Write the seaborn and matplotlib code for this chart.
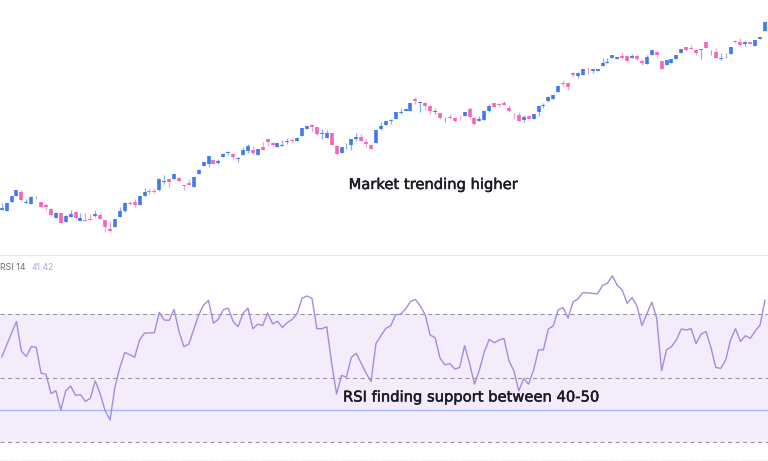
import matplotlib
matplotlib.use("Agg")

import matplotlib.pyplot as plt
import matplotlib.patheffects as pe
import seaborn as sns
import pandas as pd

# one value per candle (price scale is arbitrary)
open_price = [
    45.0, 44.3, 53.0, 59.3, 62.7, 51.7, 50.7, 57.5, 53.3, 50.0,
    46.0, 37.0, 42.3, 33.0, 38.0, 42.7, 34.3, 35.0, 36.3, 38.7,
    39.7, 35.0, 26.0, 27.7, 38.3, 44.3, 52.3, 53.0, 49.7, 59.3,
    64.3, 64.3, 65.0, 73.0, 76.0, 76.3, 77.3, 70.0, 71.7, 68.3,
    81.0, 89.0, 91.0, 94.7, 92.0, 98.3, 102.3, 101.0, 96.0, 100.0,
    104.3, 105.3, 99.7, 107.7, 115.7, 112.0, 108.0, 109.3, 113.0, 115.0,
    114.3, 119.0, 126.3, 130.0, 128.0, 121.3, 117.3, 122.3, 109.0, 101.7,
    106.7, 109.7, 116.0, 117.7, 113.0, 110.3, 111.7, 125.7, 129.7, 134.3,
    136.3, 141.7, 144.0, 144.0, 155.7, 152.3, 152.3, 149.0, 143.0, 141.7,
    135.7, 137.7, 137.3, 136.3, 139.0, 146.0, 137.0, 134.3, 135.0, 143.7,
    151.7, 150.7, 151.7, 147.0, 142.0, 140.3, 135.0, 139.0, 136.3, 143.0,
    149.0, 154.0, 156.0, 162.7, 171.7, 171.7, 181.7, 179.0, 179.7, 187.3,
    183.7, 183.7, 189.3, 192.3, 197.0, 196.3, 199.0, 198.7, 197.3, 198.7,
    194.3, 191.3, 200.3, 203.0, 193.7, 189.7, 192.3, 196.3, 202.0, 208.0,
    206.7, 205.3, 205.3, 212.7, 203.7, 203.0, 196.0, 200.7, 201.3, 214.0,
    213.3, 210.7, 213.3, 209.0, 215.7, 224.3,
]
close_price = [
    46.7, 52.3, 59.0, 65.0, 55.0, 53.3, 58.3, 58.0, 48.0, 48.0,
    39.7, 41.7, 32.0, 39.0, 41.0, 36.7, 37.3, 34.3, 35.3, 41.0,
    36.0, 28.3, 23.7, 36.0, 44.0, 52.3, 51.0, 50.0, 59.0, 62.7,
    63.3, 63.3, 76.0, 74.0, 73.0, 80.7, 74.0, 69.3, 70.0, 78.3,
    85.0, 93.3, 99.0, 91.0, 94.0, 101.0, 103.0, 98.3, 96.7, 105.0,
    109.3, 102.3, 105.7, 105.0, 112.7, 110.0, 112.0, 110.0, 113.7, 114.0,
    117.3, 127.3, 129.0, 128.3, 120.7, 121.7, 122.3, 110.3, 101.0, 108.0,
    107.3, 116.0, 117.7, 114.3, 110.7, 106.3, 124.7, 129.3, 134.0, 135.0,
    143.3, 143.3, 146.0, 152.3, 153.7, 152.7, 149.3, 144.0, 144.0, 137.0,
    136.3, 137.0, 134.3, 135.7, 143.0, 137.7, 131.0, 136.3, 144.0, 149.0,
    148.0, 150.0, 150.0, 144.0, 141.7, 134.3, 138.3, 136.3, 141.0, 149.0,
    150.0, 158.3, 160.3, 169.0, 171.0, 167.7, 179.7, 181.7, 186.3, 186.7,
    186.3, 186.3, 192.3, 193.0, 200.3, 198.0, 196.7, 194.3, 199.0, 195.7,
    192.0, 197.7, 204.7, 200.3, 185.7, 195.0, 196.3, 200.0, 205.7, 205.0,
    206.0, 201.7, 206.0, 207.3, 204.3, 197.3, 196.7, 201.3, 208.3, 213.0,
    209.7, 212.7, 211.3, 215.0, 218.3, 233.0,
]
high_price = [
    52.3, 52.3, 59.0, 65.0, 65.0, 56.0, 59.0, 59.3, 53.3, 50.7,
    47.3, 43.3, 42.3, 40.0, 45.0, 43.7, 41.7, 41.7, 40.7, 45.0,
    42.7, 35.0, 34.0, 36.0, 47.7, 52.7, 53.7, 55.7, 59.0, 66.7,
    66.7, 66.7, 76.7, 80.0, 76.7, 80.7, 77.7, 70.0, 76.0, 78.3,
    85.5, 93.3, 99.0, 94.7, 95.7, 101.7, 104.3, 102.3, 98.3, 108.3,
    111.0, 109.0, 105.7, 113.3, 117.3, 113.0, 112.0, 115.0, 117.0, 117.0,
    118.3, 127.3, 129.0, 131.0, 128.3, 125.7, 125.0, 122.3, 110.0, 108.0,
    111.7, 116.0, 121.7, 121.0, 116.3, 110.7, 124.7, 133.3, 134.0, 135.7,
    143.3, 146.7, 146.0, 152.3, 158.3, 152.7, 153.3, 149.7, 147.3, 142.3,
    138.3, 141.0, 138.3, 140.3, 143.0, 147.7, 137.7, 139.0, 144.0, 151.0,
    152.3, 152.3, 154.0, 150.0, 142.0, 143.3, 140.0, 139.0, 141.0, 149.0,
    151.7, 159.0, 160.3, 169.0, 175.0, 172.3, 183.3, 183.0, 186.3, 188.3,
    186.3, 186.3, 196.7, 197.3, 200.3, 198.0, 202.3, 200.0, 200.7, 200.0,
    195.7, 200.0, 204.7, 203.3, 193.7, 195.0, 196.3, 200.0, 205.7, 208.3,
    210.0, 205.7, 206.0, 212.7, 205.0, 207.3, 202.3, 201.7, 208.3, 214.7,
    216.7, 214.3, 213.3, 215.0, 218.3, 233.0,
]
low_price = [
    45.0, 44.3, 53.0, 59.3, 54.0, 51.7, 50.7, 56.5, 48.0, 45.0,
    39.3, 36.7, 32.0, 32.7, 37.7, 36.0, 34.0, 34.3, 35.0, 37.7,
    35.7, 22.7, 23.3, 27.7, 38.0, 43.3, 49.7, 47.7, 49.7, 59.0,
    61.0, 61.7, 63.7, 71.0, 68.3, 76.3, 73.0, 65.0, 69.7, 68.3,
    81.0, 89.0, 88.3, 91.0, 91.0, 98.3, 100.0, 95.7, 92.7, 100.0,
    102.3, 100.3, 99.7, 105.0, 109.0, 109.0, 108.0, 109.0, 110.7, 112.3,
    114.0, 119.0, 126.3, 123.3, 119.3, 115.7, 117.0, 109.7, 100.0, 101.7,
    105.7, 105.0, 114.0, 113.7, 108.3, 105.7, 111.7, 125.0, 129.7, 131.0,
    136.3, 141.0, 144.0, 144.0, 151.0, 143.3, 145.0, 140.7, 141.0, 135.7,
    133.3, 136.0, 133.0, 135.0, 139.0, 137.0, 129.7, 134.0, 135.0, 143.3,
    147.7, 147.7, 149.7, 142.7, 136.0, 134.0, 132.7, 136.3, 136.3, 139.3,
    146.7, 153.3, 156.0, 162.7, 167.7, 165.0, 178.3, 177.3, 179.7, 181.3,
    181.7, 183.7, 189.3, 192.3, 197.0, 195.7, 196.0, 193.3, 196.7, 195.0,
    190.0, 191.3, 200.3, 197.3, 185.7, 189.7, 192.3, 196.3, 202.0, 204.3,
    205.7, 200.3, 196.3, 206.7, 200.0, 196.7, 195.3, 196.7, 201.3, 211.7,
    209.0, 209.3, 211.3, 209.0, 215.7, 224.3,
]
rsi_values = [
    56.6, 60.4, 64.1, 67.7, 58.5, 56.8, 59.9, 59.7, 51.6, 51.3,
    45.3, 46.1, 40.1, 46.1, 47.6, 44.7, 44.9, 42.8, 43.8, 49.2,
    45.1, 39.9, 37.0, 47.4, 53.4, 58.1, 57.4, 56.6, 62.0, 64.1,
    64.2, 64.2, 70.6, 68.2, 68.1, 71.5, 64.6, 59.9, 60.7, 65.3,
    69.8, 72.9, 74.3, 67.2, 68.5, 71.4, 71.9, 67.7, 66.1, 70.3,
    71.9, 65.5, 66.9, 66.5, 70.4, 67.0, 67.8, 65.9, 67.4, 68.4,
    70.3, 75.0, 75.7, 75.0, 65.5, 65.5, 66.1, 54.7, 45.1, 50.9,
    50.4, 56.6, 57.8, 54.7, 51.6, 49.0, 60.9, 63.3, 65.6, 66.4,
    69.9, 70.0, 71.6, 74.0, 74.6, 72.6, 69.8, 63.5, 62.7, 56.3,
    54.2, 54.6, 52.9, 53.4, 60.2, 54.7, 48.2, 52.6, 58.3, 62.2,
    61.1, 62.0, 62.4, 55.5, 52.4, 46.1, 49.9, 48.2, 52.6, 58.9,
    58.9, 65.4, 66.4, 71.4, 72.1, 68.8, 73.8, 74.8, 76.7, 76.7,
    76.5, 76.4, 79.0, 79.7, 82.0, 79.0, 77.6, 73.4, 75.2, 72.6,
    66.5, 70.1, 73.8, 68.8, 52.4, 58.9, 59.9, 62.0, 65.4, 65.1,
    65.5, 60.8, 63.8, 64.6, 59.7, 53.4, 53.1, 55.7, 62.0, 65.5,
    61.5, 63.3, 62.5, 64.7, 66.7, 74.5,
]
rsi_dashed_levels = [70, 50, 30]
rsi_solid_level = 40

BLUE = "#4179ee"
PINK = "#f566b4"
PURPLE = "#a48be0"

sns.set_theme(style="white")
plt.rcParams["font.family"] = ["DejaVu Sans"]

bars = list(range(len(close_price)))
candles = pd.DataFrame({
    "bar": bars,
    "open": open_price,
    "close": close_price,
    "high": high_price,
    "low": low_price,
})
candles["side"] = ["up" if c >= o else "down" for o, c in zip(open_price, close_price)]

# two points per candle, seaborn draws one line per unit
wicks = candles.melt(id_vars=["bar", "side"], value_vars=["low", "high"], value_name="price")
bodies = candles.melt(id_vars=["bar", "side"], value_vars=["open", "close"], value_name="price")
rsi_frame = pd.DataFrame({"bar": bars, "rsi": rsi_values})

fig = plt.figure(figsize=(7.68, 4.61), dpi=100, facecolor="white")
ax_price = fig.add_axes([0, 206 / 461, 1, 255 / 461])
ax_rsi = fig.add_axes([0, 0, 1, 206 / 461])

palette = {"up": BLUE, "down": PINK}
sns.lineplot(data=wicks, x="bar", y="price", hue="side", units="bar", estimator=None,
             sort=False, palette=palette, legend=False, lw=0.9, alpha=0.6,
             solid_capstyle="butt", ax=ax_price)
sns.lineplot(data=bodies, x="bar", y="price", hue="side", units="bar", estimator=None,
             sort=False, palette=palette, legend=False, lw=2.6,
             solid_capstyle="butt", ax=ax_price)
ax_price.set_xlim(-0.345, 155.6)
ax_price.set_ylim(0, 255)

# rsi panel
ax_rsi.axhspan(min(rsi_dashed_levels), max(rsi_dashed_levels), color="#f3edfb", lw=0)
for level in rsi_dashed_levels:
    ax_rsi.axhline(level, color="#96919d", lw=0.75, dashes=(4, 3.2))
ax_rsi.axhline(rsi_solid_level, color="#a9b9f6", lw=1)
sns.lineplot(data=rsi_frame, x="bar", y="rsi", color=PURPLE, lw=1.0, estimator=None,
             sort=False, ax=ax_rsi)
ax_rsi.set_xlim(-0.345, 155.6)
ax_rsi.set_ylim(24.2, 88.5)

for ax in (ax_price, ax_rsi):
    ax.set_xticks([])
    ax.set_yticks([])
    ax.set_xlabel("")
    ax.set_ylabel("")
    sns.despine(ax=ax, left=True, right=True, top=True, bottom=True)

# panel separators
fig.add_artist(plt.Line2D([0, 1], [206 / 461, 206 / 461], color="#e8e6f0", lw=0.8))
fig.add_artist(plt.Line2D([0, 1], [1 / 461, 1 / 461], color="#ececf0", lw=0.8, ls=(0, (1, 1))))

ink = "#1b1b24"
# the annotations are a bit heavier than DejaVu regular
heavier = [pe.withStroke(linewidth=0.35, foreground=ink)]
fig.text(434 / 768, 1 - 184.5 / 461, "Market trending higher", ha="center", va="center",
         fontsize=10.6, color=ink, path_effects=heavier)
fig.text(472 / 768, 1 - 397 / 461, "RSI finding support between 40-50", ha="center", va="center",
         fontsize=10.6, color=ink, path_effects=heavier)
fig.text(0.5 / 768, 1 - 267.5 / 461, "RSI 14", ha="left", va="center", fontsize=6.4, family="Inter",
         color="#6f6f78")
fig.text(31 / 768, 1 - 267.5 / 461, "41.42", ha="left", va="center", fontsize=6.2, family="Inter",
         color="#b39ee4")

fig.savefig("out.png", dpi=100)
